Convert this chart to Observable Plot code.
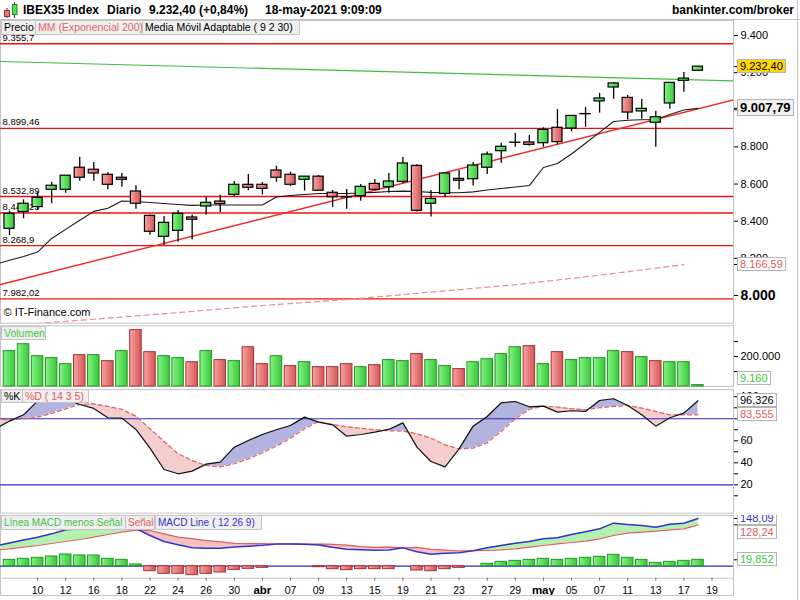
<!DOCTYPE html>
<html>
<head>
<meta charset="utf-8">
<script src="https://cdn.jsdelivr.net/npm/d3@7"></script>
<script src="https://cdn.jsdelivr.net/npm/@observablehq/plot@0.6"></script>
<style>
html,body{margin:0;padding:0;background:#fff;}
#wrap{position:relative;width:800px;height:600px;overflow:hidden;font-family:"Liberation Sans",Arial,sans-serif;font-size:11px;color:#000;background:#fff;}
#wrap > svg{position:absolute;left:0;top:0;}
.lg{position:absolute;line-height:13px;padding:0 2px;background:#efefef;border:1px solid #c4c4c4;font-size:10.5px;white-space:nowrap;box-sizing:border-box;overflow:hidden;}
.vl{position:absolute;left:737px;height:14px;line-height:12px;padding:0 2px;border:1px solid #b4b4b4;background:#fff;font-size:11px;white-space:nowrap;box-sizing:border-box;}
.hd{position:absolute;top:3px;line-height:14px;font-weight:bold;font-size:12px;white-space:nowrap;}
.clipper{position:absolute;left:0;width:800px;overflow:hidden;}
.sep{position:absolute;background:#c4c4c4;}
</style>
</head>
<body>
<svg width="0" height="0" style="position:absolute">
  <defs>
    <linearGradient id="gGreen" x1="0" x2="1" y1="0" y2="0">
      <stop offset="0" stop-color="#86f386"/><stop offset="1" stop-color="#38c838"/>
    </linearGradient>
    <linearGradient id="gRed" x1="0" x2="1" y1="0" y2="0">
      <stop offset="0" stop-color="#f7a3a3"/><stop offset="1" stop-color="#d65555"/>
    </linearGradient>
  </defs>
</svg>
<div id="wrap"></div>
<script>
// ---------------- DATA ----------------
// trading days 8-mar-2021 .. 18-may-2021 (index 0..49)
const openP  = [8359,8449,8476,8569,8569,8688,8677,8650,8634,8560,8429,8316,8348,8420,8479,8506,8542,8596,8596,8673,8650,8623,8640,8553,8530,8535,8601,8583,8612,8698,8494,8547,8628,8626,8688,8777,8822,8824,8820,8903,8899,8976,9045,9120,9064,8991,8930,9034,9156,9210];
const highP  = [8454,8515,8556,8610,8645,8745,8716,8661,8657,8591,8434,8425,8458,8434,8528,8540,8614,8652,8608,8696,8664,8641,8646,8565,8571,8598,8624,8657,8743,8704,8565,8657,8673,8716,8772,8820,8872,8862,8903,9001,8967,9012,9088,9147,9077,9055,8992,9145,9201,9232.4];
const lowP   = [8323,8413,8461,8494,8551,8615,8615,8569,8583,8465,8325,8269,8287,8300,8432,8447,8533,8565,8542,8610,8587,8562,8562,8475,8465,8508,8562,8551,8601,8449,8422,8526,8569,8589,8652,8712,8798,8804,8798,8811,8881,8906,8982,9057,8946,8949,8798,9003,9095,9210];
const closeP = [8440,8494,8526,8591,8645,8634,8657,8596,8623,8494,8343,8391,8440,8408,8499,8492,8596,8580,8574,8634,8596,8640,8564,8529,8528,8585,8569,8614,8711,8456,8520,8657,8618,8700,8759,8801,8823,8811,8892,8826,8967,8977,9061,9142,8985,9005,8960,9145,9168,9232.4];

// adaptive moving average (index -1..49)
const amaVals = [8168,8190,8210,8234,8307,8356,8405,8453,8470,8509,8506,8501,8495,8490,8485,8487,8487,8487,8487,8487,8530,8538,8544,8549,8549,8549,8552,8555,8560,8562,8560,8555,8553,8553,8558,8568,8576,8584,8592,8689,8711,8762,8820,8878,8937,8944,8946,8948,8975,8999,9007.79];
// EMA 200 readings
const emaIdx = [0,6,12,18,24,30,36,42,48];
const emaVals = [7838,7872,7908,7946,7978,8018,8058,8109,8166.59];

// horizontal levels
const levels = [9355.7, 8899.46, 8532.89, 8444.23, 8268.9, 7982.02];
const levelLabels = ["9.355,7","8.899,46","8.532,89","8.444,23","8.268,9","7.982,02"];

// trend lines (index, price)
const greenTrendIdx = [-0.64, 51.53], greenTrendVal = [9260, 9156];
const redTrendIdx = [-0.64, 51.53], redTrendVal = [8059, 9053];

// volume
const volume = [236000,282000,202000,189000,149000,209000,209000,169000,236000,376000,229000,202000,189000,162000,236000,176000,169000,262000,149000,202000,136000,162000,129000,129000,149000,129000,142000,176000,169000,216000,176000,136000,116000,162000,182000,216000,262000,269000,149000,229000,176000,189000,189000,236000,229000,196000,169000,162000,162000,9160];
const volUp  = [1,1,1,1,1,0,1,0,1,0, 0,1,1,0,1,0,1,0,0,1, 0,1,0,0,0,1,0,1,1,0, 1,1,0,1,1,1,1,0,1,0, 1,1,1,1,0,1,0,1,1,1];

// stochastic %K / %D (index -1..49)
const stochK = [71,77.9,83.6,96,99,98,93,89.4,80.9,80.6,70.3,53.3,33.9,30,32.4,38.8,40.6,54.2,60.3,65.7,70,73.9,81.5,77,74.5,64.2,65.7,67.9,70.3,76.3,54.2,41.2,36.3,52.7,73.3,82.1,94.5,95.7,90.9,91.5,86,87.3,86.7,96.6,98.2,92.1,83.6,73.3,80.9,85.1,96.326];
const stochD = [80,79,80,81.5,84.8,89,93,93.6,91.2,88.5,82.4,70.9,59.4,48.2,42.1,37.5,36.3,39.1,43.6,49.1,55.1,62.4,70.9,77.5,74.8,72.7,71.5,70,69.1,68.8,66.3,62.4,56.3,52.7,53.3,58.2,68.5,80,88.5,91.5,90.6,89.1,88.2,90,91.2,92.1,89.7,86.7,83.6,83.6,83.555];

// MACD (index -1..49), histogram (index 0..49)
const macdLine = [63.1,72,81,90,100.3,112.9,116,121,123,125,117,95.2,76.6,66.3,57.5,55.4,55.9,59.6,62.1,64.7,68.8,69,68.3,65.6,58.5,52.9,51.3,49.2,50.2,56.9,45.1,36.8,40.4,42,48.2,56.9,64.2,71.4,76.6,84.8,87.9,98.3,106.5,115.8,133.4,129.3,126.2,121,130.3,133.4,148.09];
const macdSignal = [49.6,53.8,59,64.2,70.4,76.6,82.8,90,98.3,105.5,111.7,110.6,100.3,90,85.3,79.1,75.5,70.9,70.3,69.8,68.8,69,68.3,68.7,67.7,65.2,60.5,58.4,59.4,56.9,58.4,52.2,49.6,47.1,48.2,48.7,50.7,53.8,59,64.2,69.3,73.5,77.7,84.8,95.2,102.4,105.5,108.6,112.7,115.8,128.24];
const macdHist = [19.7,22.8,25.9,30,36.3,33.2,33.2,22.8,19.7,5.3,-15.4,-23.7,-23.7,-27.8,-23.7,-19.6,-11.3,-8.2,-5.1,0,0,0,-3.1,-9.2,-12.3,-9.2,-9.2,-9.2,0,-13.3,-15.4,-9.2,-5.1,0,7.3,13.5,16.6,19.7,22.8,19.7,22.8,25.9,29,35.3,25.9,19.7,10.4,13.5,16.6,19.852];

// date axis
const tickIdx = [2,4,6,8,10,12,14,16,18,20,22,24,26,28,30,32,34,36,38,40,42,44,46,48,50];
const tickLabels = ["10","12","16","18","22","24","26","30","abr","07","09","13","15","19","21","23","27","29","may","05","07","11","13","17","19"];
const boldLabels = ["abr","may"];

const priceTicks = [9400,9200,9000,8800,8600,8400,8200,8000];
const priceHiddenLabels = [9000];   // covered by the value box in the reference
const stochTicks = [10,20,30,40,50,60,70,80,90,100];
const stochLabelled = [20,40,60,100];

// ---------------- HELPERS ----------------
const wrap = document.getElementById("wrap");
const loc = d3.formatLocale({decimal: ",", thousands: ".", grouping: [3], currency: ["", ""]});
const fInt = loc.format(",.0f");
const f2 = loc.format(",.2f");
const f3 = loc.format(".3f");
const xDomain = [-0.6406, 51.53];
const baseStyle = {fontFamily: '"Liberation Sans", Arial, sans-serif', fontSize: "11px", background: "transparent", overflow: "visible", color: "#000"};

function panel(top, bottom, ydom, marks, showX) {
  const p = Plot.plot({
    width: 800, height: 600,
    marginLeft: 0, marginRight: 67, marginTop: top, marginBottom: 600 - bottom,
    x: showX ? {domain: xDomain, label: null} : {domain: xDomain, axis: null, label: null},
    y: {domain: ydom, label: null},
    style: baseStyle,
    marks
  });
  wrap.appendChild(p);
  return p;
}
const series = (arr, start) => arr.map((v, k) => ({i: start + k, v}));
function splitFill(a, b, start) {
  const pts = [];
  for (let k = 0; k < a.length; k++) {
    if (k > 0) {
      const d0 = a[k-1] - b[k-1], d1 = a[k] - b[k];
      if (d0 * d1 < 0) {
        const t = d0 / (d0 - d1);
        const v = b[k-1] + t * (b[k] - b[k-1]);
        pts.push({i: start + k - 1 + t, a: v, b: v});
      }
    }
    pts.push({i: start + k, a: a[k], b: b[k]});
  }
  return pts;
}
function legend(items, top, h, fs) {
  items.forEach(([text, left, w, color]) => {
    const d = document.createElement("div");
    d.className = "lg";
    d.textContent = text;
    Object.assign(d.style, {left: left + "px", top: top + "px", width: w + "px", height: h + "px", lineHeight: (h - 2) + "px", color, fontSize: (fs || 10.5) + "px"});
    wrap.appendChild(d);
  });
}
function valueLabels(plot, top, bottom, items) {
  const y = plot.scale("y");
  const c = document.createElement("div");
  c.className = "clipper";
  c.style.top = top + "px";
  c.style.height = (bottom - top) + "px";
  let prev = -Infinity;
  items.map(it => ({...it, cy: y.apply(it.v)})).sort((a, b) => a.cy - b.cy).forEach(it => {
    const h = it.h || 14;
    let t = it.cy - h / 2;
    if (t < prev) t = prev;
    if (t + h > bottom - 1) t = bottom - 1 - h;
    prev = t + h;
    const d = document.createElement("div");
    d.className = "vl";
    d.textContent = it.text;
    Object.assign(d.style, {top: (t - top) + "px", height: h + "px", lineHeight: (h - 2) + "px",
      color: it.color || "#000", background: it.bg || "#fff",
      fontWeight: it.bold ? "bold" : "normal", fontSize: (it.size || 11) + "px"});
    c.appendChild(d);
  });
  wrap.appendChild(c);
}
function sep(left, top, w, h) {
  const d = document.createElement("div");
  d.className = "sep";
  Object.assign(d.style, {left: left + "px", top: top + "px", width: w + "px", height: h + "px"});
  wrap.appendChild(d);
}

// ---------------- HEADER ----------------
wrap.insertAdjacentHTML("beforeend",
  `<svg width="20" height="20" style="position:absolute;left:1px;top:0">
     <line x1="6" x2="6" y1="8" y2="18" stroke="#333"/>
     <rect x="3.5" y="10.5" width="5" height="6" fill="#ee7777" stroke="#993333"/>
     <line x1="13.5" x2="13.5" y1="2" y2="18" stroke="#333"/>
     <rect x="11.5" y="4.5" width="4.5" height="10" fill="#55dd55" stroke="#228822"/>
   </svg>`);
[["IBEX35 Index", 23], ["Diario", 107], ["9.232,40 (+0,84%)", 149], ["18-may-2021 9:09:09", 265]].forEach(([t, x]) => {
  const d = document.createElement("div"); d.className = "hd"; d.textContent = t; d.style.left = x + "px"; wrap.appendChild(d);
});
{ const d = document.createElement("div"); d.className = "hd"; d.textContent = "bankinter.com/broker"; d.style.right = "6px"; wrap.appendChild(d); }
sep(0, 19, 800, 1);
sep(797, 0, 1, 600);

// ---------------- PRICE PANEL ----------------
const candles = openP.map((o, i) => ({i, o, h: highP[i], l: lowP[i], c: closeP[i]}));
const PT = 20, PB = 322.7;
const pricePlot = panel(PT, PB, [7850.7, 9480.8], [
  Plot.frame({stroke: "#c4c4c4"}),
  Plot.ruleY(levels, {stroke: "#ee1111", strokeWidth: 1.3}),
  Plot.text(levels, {y: d => d, text: (d, k) => levelLabels[k], frameAnchor: "left", dx: 2, dy: -6, textAnchor: "start", fontSize: 9.5}),
  Plot.text(["© IT-Finance.com"], {frameAnchor: "bottom-left", text: d => d, dx: 3, dy: -7, textAnchor: "start", fontSize: 11}),
  Plot.line(emaIdx.map((i, k) => ({i, v: emaVals[k]})), {x: "i", y: "v", stroke: "#ec8a8a", strokeWidth: 1.2, strokeDasharray: "5,4", clip: true}),
  Plot.line(greenTrendIdx.map((i, k) => ({i, v: greenTrendVal[k]})), {x: "i", y: "v", stroke: "#44bb44", strokeWidth: 1.2, clip: true}),
  Plot.line(redTrendIdx.map((i, k) => ({i, v: redTrendVal[k]})), {x: "i", y: "v", stroke: "#f02a2a", strokeWidth: 1.4, clip: true}),
  Plot.line(series(amaVals, -1), {x: "i", y: "v", stroke: "#1a1a1a", strokeWidth: 1.1, clip: true}),
  Plot.ruleX(candles, {x: "i", y1: "l", y2: "h", stroke: "#000", strokeWidth: 1.3}),
  Plot.rect(candles.filter(d => d.c >= d.o), {x1: d => d.i - 0.36, x2: d => d.i + 0.36, y1: "o", y2: "c", fill: "url(#gGreen)", stroke: "#000", strokeWidth: 1.2}),
  Plot.rect(candles.filter(d => d.c < d.o), {x1: d => d.i - 0.36, x2: d => d.i + 0.36, y1: "o", y2: "c", fill: "url(#gRed)", stroke: "#000", strokeWidth: 1.2}),
  Plot.axisY({anchor: "right", ticks: priceTicks.filter(t => t !== 8000), tickFormat: d => priceHiddenLabels.includes(d) ? "" : fInt(d), tickSize: 4, tickPadding: 3, fontSize: 11}),
  Plot.axisY({anchor: "right", ticks: [8000], tickFormat: fInt, tickSize: 4, tickPadding: 3, fontSize: 14, fontWeight: "bold"}),
  Plot.axisY({anchor: "right", ticks: [closeP[49], amaVals[50], emaVals[emaVals.length - 1]], tickFormat: () => "", tickSize: 4})
]);
legend([["Precio", 1, 35, "#000"], ["MM (Exponencial 200)", 35, 108, "#e06666"], ["Media Móvil Adaptable ( 9 2 30)", 142, 158, "#000"]], 20, 15);
valueLabels(pricePlot, PT, PB, [
  {v: closeP[49], text: f2(closeP[49]), bg: "#ffd700"},
  {v: amaVals[50], text: f2(amaVals[50]), bold: true, size: 13, h: 17, bg: "#f0f0f0"},
  {v: emaVals[emaVals.length - 1], text: f2(emaVals[emaVals.length - 1]), color: "#e06060"}
]);

// ---------------- VOLUME PANEL ----------------
const VT = 325.3, VB = 386;
const volData = volume.map((v, i) => ({i, v, up: volUp[i]}));
const volPlot = panel(VT, VB, [0, 404700], [
  Plot.frame({stroke: "#c4c4c4"}),
  Plot.rect(volData.filter(d => d.up), {x1: d => d.i - 0.41, x2: d => d.i + 0.41, y1: 0, y2: "v", fill: "url(#gGreen)", stroke: "#1d9a1d", strokeWidth: 1}),
  Plot.rect(volData.filter(d => !d.up), {x1: d => d.i - 0.41, x2: d => d.i + 0.41, y1: 0, y2: "v", fill: "url(#gRed)", stroke: "#a83232", strokeWidth: 1}),
  Plot.axisY({anchor: "right", ticks: [100000, 200000, 300000], tickFormat: d => d === 200000 ? fInt(d) : "", tickSize: 4, tickPadding: 3, fontSize: 11})
]);
legend([["Volumen", 1, 45, "#44c844"]], 326, 14);
valueLabels(volPlot, VT, VB, [{v: volume[49], text: fInt(volume[49]), color: "#3cc83c"}]);

// ---------------- STOCHASTIC PANEL ----------------
const ST = 389, SB = 512.7;
const stPts = splitFill(stochK, stochD, -1);
const stPlot = panel(ST, SB, [-5.8, 106.6], [
  Plot.frame({stroke: "#c4c4c4"}),
  Plot.areaY(stPts, {x: "i", y1: "b", y2: d => Math.max(d.a, d.b), fill: "#b3b3df", clip: true}),
  Plot.areaY(stPts, {x: "i", y1: "b", y2: d => Math.min(d.a, d.b), fill: "#f4cdcd", clip: true}),
  Plot.ruleY([20, 80], {stroke: "#2a2acc", strokeWidth: 1.2}),
  Plot.line(series(stochD, -1), {x: "i", y: "v", stroke: "#e06060", strokeWidth: 1.2, strokeDasharray: "4,3", clip: true}),
  Plot.line(series(stochK, -1), {x: "i", y: "v", stroke: "#111", strokeWidth: 1.2, clip: true}),
  Plot.axisY({anchor: "right", ticks: stochTicks, tickFormat: d => stochLabelled.includes(d) ? String(d) : "", tickSize: 4, tickPadding: 3, fontSize: 11})
]);
legend([["%K", 1, 22, "#000"], ["%D ( 14 3 5)", 22, 67, "#e06060"]], 389, 14);
valueLabels(stPlot, ST, SB, [
  {v: stochK[50], text: f3(stochK[50])},
  {v: stochD[50], text: f3(stochD[50]), color: "#e06060"}
]);

// ---------------- MACD PANEL ----------------
const MT = 515, MB = 577.7;
const mPts = splitFill(macdLine, macdSignal, -1);
const hist = macdHist.map((v, i) => ({i, v})).filter(d => d.v !== 0);
const dateTicks = tickIdx.map((i, k) => ({i, label: tickLabels[k]}));
const macdPlot = panel(MT, MB, [-37.2, 157.2], [
  Plot.frame({stroke: "#c4c4c4"}),
  Plot.areaY(mPts, {x: "i", y1: "b", y2: d => Math.max(d.a, d.b), fill: "#b4f0ae", clip: true}),
  Plot.areaY(mPts, {x: "i", y1: "b", y2: d => Math.min(d.a, d.b), fill: "#f2c2c2", clip: true}),
  Plot.ruleY([0], {stroke: "#2a2acc", strokeWidth: 1.2}),
  Plot.rect(hist.filter(d => d.v > 0), {x1: d => d.i - 0.41, x2: d => d.i + 0.41, y1: 0, y2: "v", fill: "url(#gGreen)", stroke: "#1d9a1d", strokeWidth: 1}),
  Plot.rect(hist.filter(d => d.v < 0), {x1: d => d.i - 0.41, x2: d => d.i + 0.41, y1: 0, y2: "v", fill: "url(#gRed)", stroke: "#a83232", strokeWidth: 1}),
  Plot.line(series(macdSignal, -1), {x: "i", y: "v", stroke: "#e06060", strokeWidth: 1.2, clip: true}),
  Plot.line(series(macdLine, -1), {x: "i", y: "v", stroke: "#3333cc", strokeWidth: 1.5, clip: true}),
  Plot.axisX({ticks: tickIdx, tickSize: 3, tickFormat: () => "", stroke: "#666"}),
  Plot.text(dateTicks.filter(d => !boldLabels.includes(d.label)), {x: "i", text: "label", frameAnchor: "bottom", dy: 12, lineAnchor: "middle", fontSize: 10.5}),
  Plot.text(dateTicks.filter(d => boldLabels.includes(d.label)), {x: "i", text: "label", frameAnchor: "bottom", dy: 12, lineAnchor: "middle", fontSize: 11.5, fontWeight: "bold"}),
  Plot.axisY({anchor: "right", ticks: [macdLine[50], macdSignal[50], macdHist[49]], tickFormat: () => "", tickSize: 4})
], true);
legend([["Línea MACD menos Señal", 1, 125, "#44c044"], ["Señal", 125, 30, "#e06060"], ["MACD Line ( 12 26 9)", 155, 107, "#3333cc"]], 515, 15, 10);
valueLabels(macdPlot, MT, MB, [
  {v: macdLine[50], text: f2(macdLine[50]), color: "#3333cc"},
  {v: macdSignal[50], text: f2(macdSignal[50]), color: "#e06060"},
  {v: macdHist[49], text: f3(macdHist[49]), color: "#3cc83c"}
]);
// date-axis box
sep(0, 595, 734, 1);
sep(733, 578, 1, 18);
sep(0, 578, 1, 18);
</script>
</body>
</html>
